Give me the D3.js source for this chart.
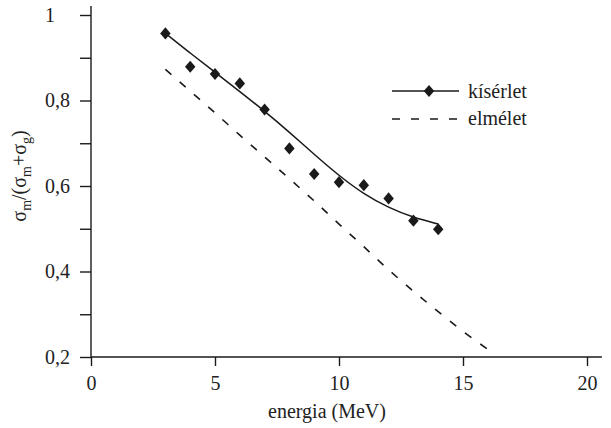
<!DOCTYPE html>
<html>
<head>
<meta charset="utf-8">
<script src="https://cdn.jsdelivr.net/npm/d3@7"></script>
<style>
  body { margin: 0; background: #fff; }
  svg text { fill: #222; }
</style>
</head>
<body>
<div id="chart"></div>
<script>
// measured points (kísérlet)
var expEnergy = [3, 4, 5, 6, 7, 8, 9, 10, 11, 12, 13, 14]
var expValues = [0.957, 0.879, 0.862, 0.840, 0.779, 0.688, 0.628, 0.609, 0.602, 0.571, 0.519, 0.499]

// fitted curve through the measurements
var fitEnergy = [3, 4, 5, 6, 7, 8, 9, 10, 11, 12, 13, 14]
var fitValues = [0.957, 0.911, 0.866, 0.821, 0.775, 0.726, 0.674, 0.624, 0.581, 0.549, 0.526, 0.511]

// theory (elmélet)
var theoEnergy = [3, 4, 5, 6, 7, 8, 9, 10, 11, 12, 13, 14, 15, 16]
var theoValues = [0.873, 0.822, 0.771, 0.719, 0.668, 0.617, 0.565, 0.511, 0.458, 0.404, 0.354, 0.306, 0.260, 0.218]

var xTicks = [0, 5, 10, 15, 20]
var yTicks = [0.2, 0.3, 0.4, 0.5, 0.6, 0.7, 0.8, 0.9, 1]
var yLabelled = [0.2, 0.4, 0.6, 0.8, 1]

var W = 611, H = 428
var margin = { top: 15, right: 24, bottom: 71, left: 91 },
    width = W - margin.left - margin.right,
    height = H - margin.top - margin.bottom;

var serif = "'Liberation Serif', Tinos, 'Times New Roman', 'Nimbus Roman', 'Noto Serif', 'DejaVu Serif', FreeSerif, serif"

var svg = d3.select('#chart').append('svg')
    .attr('width', W)
    .attr('height', H)
    .attr('font-family', serif)

var g = svg.append('g')
    .attr('transform', 'translate(' + margin.left + ',' + margin.top + ')')

var x = d3.scaleLinear().domain([0, 20]).range([0, width])
var y = d3.scaleLinear().domain([0.2, 1]).range([height, 0])

var ink = '#1a1a1a'

// axes
var xAxis = g.append('g')
    .attr('transform', 'translate(0,' + height + ')')
    .call(d3.axisBottom(x).tickValues(xTicks).tickSize(9).tickPadding(10))
xAxis.attr('font-family', serif).attr('font-size', 20)
xAxis.select('.domain').remove()
xAxis.selectAll('line').attr('stroke', ink).attr('stroke-width', 1.4)
xAxis.selectAll('text').attr('fill', '#222')

var fmt = function (d) {
    if (d === 1) return '1'
    return yLabelled.some(function (v) { return Math.abs(v - d) < 1e-9 }) ? d3.format('.1f')(d).replace('.', ',') : ''
}
var yAxis = g.append('g')
    .call(d3.axisLeft(y).tickValues(yTicks).tickSize(11).tickFormat(fmt))
yAxis.attr('font-family', serif).attr('font-size', 20)
yAxis.select('.domain').remove()
yAxis.selectAll('line').attr('stroke', ink).attr('stroke-width', 1.4)
yAxis.selectAll('text').attr('fill', '#222')
    .attr('text-anchor', 'start').attr('x', -46)

// axis lines
g.append('line')
    .attr('x1', x(0)).attr('x2', x(20.6))
    .attr('y1', y(0.2)).attr('y2', y(0.2))
    .attr('stroke', ink).attr('stroke-width', 1.4)
g.append('line')
    .attr('x1', x(0)).attr('x2', x(0))
    .attr('y1', y(0.2)).attr('y2', y(1.021))
    .attr('stroke', ink).attr('stroke-width', 1.4)

// theory, dashed
var theo = theoEnergy.map(function (e, i) { return [e, theoValues[i]] })
g.append('path')
    .datum(theo)
    .attr('fill', 'none')
    .attr('stroke', ink)
    .attr('stroke-width', 1.6)
    .attr('stroke-dasharray', '8,11')
    .attr('d', d3.line().x(function (d) { return x(d[0]) }).y(function (d) { return y(d[1]) })
        .curve(d3.curveMonotoneX))

// fit, solid
var fit = fitEnergy.map(function (e, i) { return [e, fitValues[i]] })
g.append('path')
    .datum(fit)
    .attr('fill', 'none')
    .attr('stroke', ink)
    .attr('stroke-width', 1.5)
    .attr('d', d3.line().x(function (d) { return x(d[0]) }).y(function (d) { return y(d[1]) })
        .curve(d3.curveBasis))

// diamond marker, a bit taller than wide
var diamond = {
    draw: function (ctx, size) {
        var w = Math.sqrt(size) / 2, h = w * 1.15
        ctx.moveTo(0, -h); ctx.lineTo(w, 0); ctx.lineTo(0, h); ctx.lineTo(-w, 0); ctx.closePath()
    }
}
var sym = d3.symbol().type(diamond).size(110)

g.selectAll('.pt')
    .data(expEnergy.map(function (e, i) { return [e, expValues[i]] }))
    .enter()
    .append('path')
    .attr('class', 'pt')
    .attr('fill', ink)
    .attr('transform', function (d) { return 'translate(' + x(d[0]) + ',' + y(d[1]) + ')' })
    .attr('d', sym)

// legend
var lg = svg.append('g').attr('transform', 'translate(392,91)')
lg.append('line').attr('x1', 0).attr('x2', 67).attr('y1', 0).attr('y2', 0)
    .attr('stroke', ink).attr('stroke-width', 1.5)
lg.append('path').attr('transform', 'translate(37,0)').attr('fill', ink).attr('d', sym)
lg.append('text').attr('x', 76).attr('y', 7).attr('font-size', 20).text('kísérlet')
lg.append('line').attr('x1', 0).attr('x2', 67).attr('y1', 28).attr('y2', 28)
    .attr('stroke', ink).attr('stroke-width', 1.6).attr('stroke-dasharray', '8,11')
lg.append('text').attr('x', 76).attr('y', 34).attr('font-size', 20).text('elmélet')

// axis titles
svg.append('text')
    .attr('x', 327).attr('y', 418)
    .attr('text-anchor', 'middle')
    .attr('font-size', 20)
    .text('energia (MeV)')

var yl = svg.append('text')
    .attr('transform', 'translate(26,176) rotate(-90)')
    .attr('text-anchor', 'middle')
    .attr('font-size', 20)
yl.append('tspan').text('σ')
yl.append('tspan').attr('font-size', 14).attr('dy', 5).text('m')
yl.append('tspan').attr('dy', -5).text('/(σ')
yl.append('tspan').attr('font-size', 14).attr('dy', 5).text('m')
yl.append('tspan').attr('dy', -5).text('+σ')
yl.append('tspan').attr('font-size', 14).attr('dy', 5).text('g')
yl.append('tspan').attr('dy', -5).text(')')
</script>
</body>
</html>
